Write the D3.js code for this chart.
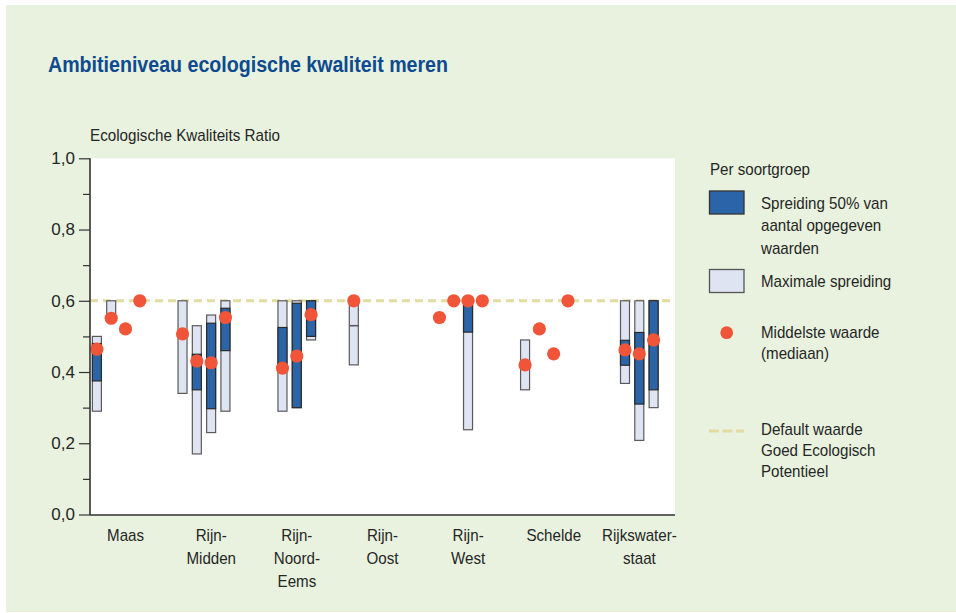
<!DOCTYPE html>
<html><head><meta charset="utf-8">
<script src="https://cdn.jsdelivr.net/npm/d3@7"></script>
<style>
html,body{margin:0;padding:0;background:#fff;}
svg{display:block;font-family:"Liberation Sans",Arial,Helvetica,sans-serif;}
</style>
</head><body>
<svg id="chart" width="956" height="613"></svg>
<script>
// Water managers (regions) along the x axis
const categories = ["Maas","Rijn-Midden","Rijn-Noord-Eems","Rijn-Oost","Rijn-West","Schelde","Rijkswaterstaat"];
const categoryLines = [["Maas"],["Rijn-","Midden"],["Rijn-","Noord-","Eems"],["Rijn-","Oost"],["Rijn-","West"],["Schelde"],["Rijkswater-","staat"]];

// One entry per species group (soortgroep) with a reported value
const groupCategory = ["Maas","Maas","Maas","Maas",
  "Rijn-Midden","Rijn-Midden","Rijn-Midden","Rijn-Midden",
  "Rijn-Noord-Eems","Rijn-Noord-Eems","Rijn-Noord-Eems",
  "Rijn-Oost",
  "Rijn-West","Rijn-West","Rijn-West","Rijn-West",
  "Schelde","Schelde","Schelde","Schelde",
  "Rijkswaterstaat","Rijkswaterstaat","Rijkswaterstaat"];
const groupSlot = [0,1,2,3, 0,1,2,3, 1,2,3, 0, 0,1,2,3, 0,1,2,3, 1,2,3];
const medianValue = [0.464,0.551,0.521,0.60, 0.507,0.431,0.426,0.553, 0.411,0.445,0.561, 0.60, 0.553,0.60,0.60,0.60, 0.42,0.521,0.451,0.60, 0.462,0.451,0.49];
const rangeLow  = [0.29,0.55,null,null, 0.34,0.17,0.23,0.29, 0.29,0.30,0.49, 0.42, null,null,0.238,null, 0.35,null,null,null, 0.368,0.208,0.30];
const rangeHigh = [0.50,0.60,null,null, 0.60,0.53,0.56,0.60, 0.60,0.60,0.60, 0.60, null,null,0.60,null, 0.49,null,null,null, 0.60,0.60,0.60];
const iqrLow  = [0.375,null,null,null, null,0.35,0.297,0.46, 0.41,0.30,0.50, 0.53, null,null,0.512,null, null,null,null,null, 0.419,0.31,0.35];
const iqrHigh = [0.48,null,null,null, null,0.45,0.537,0.579, 0.525,0.593,0.60, 0.53, null,null,0.60,null, null,null,null,null, 0.489,0.511,0.60];

const yTicks = [0,0.2,0.4,0.6,0.8,1.0];
const yMinorTicks = [0.1,0.3,0.5,0.7,0.9];
const referenceLevel = 0.6;

const rows = groupCategory.map((c,i) => ({
  category: c, slot: groupSlot[i], median: medianValue[i],
  lo: rangeLow[i], hi: rangeHigh[i], qlo: iqrLow[i], qhi: iqrHigh[i]
}));

const COLORS = {
  panel: "#e8f2de", plot: "#ffffff", axis: "#333333", text: "#262626",
  title: "#0d4a8f", dark: "#2b65a7", light: "#dfe4f2", dot: "#f0553a", ref: "#e2dca0"
};
const NARROW = 0.89;

const svg = d3.select("#chart");
const plot = {left: 90, right: 675, top: 158.3, bottom: 514.5};

// background panel and plotting area
svg.append("rect").attr("x",6).attr("y",5).attr("width",950).attr("height",607).attr("fill",COLORS.panel);
svg.append("rect").attr("x",plot.left).attr("y",plot.top).attr("width",plot.right-plot.left)
  .attr("height",plot.bottom-plot.top).attr("fill",COLORS.plot);

const x = d3.scalePoint().domain(categories).range([125.6, 639.4]);
const slotX = d3.scaleLinear().domain([0,3]).range([-28.7, 14.2]);
const y = d3.scaleLinear().domain([0,1]).range([plot.bottom, plot.top]);
const barW = 9;
const cx = d => x(d.category) + slotX(d.slot);

// helper for condensed text
function narrowText(sel, tx, ty, str, opts = {}) {
  return sel.append("text")
    .attr("transform", `translate(${tx},${ty}) scale(${opts.sx ?? NARROW},1)`)
    .attr("text-anchor", opts.anchor || "start")
    .attr("font-size", opts.size || 17)
    .attr("fill", opts.fill || COLORS.text)
    .text(str);
}

// title
svg.append("text").attr("x",48).attr("y",72).attr("font-size",22).attr("font-weight","bold")
  .attr("fill",COLORS.title).attr("textLength",400).attr("lengthAdjust","spacingAndGlyphs")
  .text("Ambitieniveau ecologische kwaliteit meren");

// y axis title
svg.append("text").attr("x",90).attr("y",140.5).attr("font-size",17).attr("fill",COLORS.text)
  .attr("textLength",190).attr("lengthAdjust","spacingAndGlyphs")
  .text("Ecologische Kwaliteits Ratio");

// reference level (default value good ecological potential)
svg.append("line").attr("x1",plot.left).attr("x2",plot.right)
  .attr("y1",y(referenceLevel)).attr("y2",y(referenceLevel))
  .attr("stroke",COLORS.ref).attr("stroke-width",3).attr("stroke-dasharray","8,5");

// maximum spread bars
svg.append("g").selectAll("rect").data(rows.filter(d => d.lo != null)).join("rect")
  .attr("x", d => cx(d) - barW/2).attr("width", barW)
  .attr("y", d => y(d.hi)).attr("height", d => y(d.lo) - y(d.hi))
  .attr("fill", COLORS.light).attr("stroke", "#5a5a5a").attr("stroke-width", 1.2);

// 50% spread bars (a collapsed spread is drawn as a single line)
const iqrRows = rows.filter(d => d.qlo != null);
svg.append("g").selectAll("rect").data(iqrRows.filter(d => d.qhi > d.qlo)).join("rect")
  .attr("x", d => cx(d) - barW/2).attr("width", barW)
  .attr("y", d => y(d.qhi)).attr("height", d => y(d.qlo) - y(d.qhi))
  .attr("fill", COLORS.dark).attr("stroke", "#2a2a2a").attr("stroke-width", 1.2);
svg.append("g").selectAll("line").data(iqrRows.filter(d => d.qhi === d.qlo)).join("line")
  .attr("x1", d => cx(d) - barW/2).attr("x2", d => cx(d) + barW/2)
  .attr("y1", d => y(d.qlo)).attr("y2", d => y(d.qlo))
  .attr("stroke", "#5a5a5a").attr("stroke-width", 1.6);

// medians
svg.append("g").selectAll("circle").data(rows).join("circle")
  .attr("cx", cx).attr("cy", d => y(d.median)).attr("r", 6.6).attr("fill", COLORS.dot);

// axes
const yAxis = d3.axisLeft(y).tickValues(yTicks).tickSize(11).tickPadding(4)
  .tickFormat(v => d3.format(".1f")(v).replace(".", ","));
const gy = svg.append("g").attr("transform", `translate(${plot.left},0)`).call(yAxis);
gy.select(".domain").remove();
gy.selectAll(".tick line").attr("stroke", COLORS.axis).attr("stroke-width", 1.2);
gy.selectAll(".tick text").attr("font-size", 17).attr("fill", COLORS.text)
  .attr("font-family", '"Liberation Sans",Arial,sans-serif');

const yMinor = d3.axisLeft(y).tickValues(yMinorTicks).tickSize(7).tickFormat("");
const gm = svg.append("g").attr("transform", `translate(${plot.left},0)`).call(yMinor);
gm.select(".domain").remove();
gm.selectAll(".tick line").attr("stroke", COLORS.axis).attr("stroke-width", 1.2);

svg.append("line").attr("x1",plot.left).attr("x2",plot.left).attr("y1",plot.top).attr("y2",plot.bottom+0.5)
  .attr("stroke",COLORS.axis).attr("stroke-width",1.6);
svg.append("line").attr("x1",plot.left).attr("x2",plot.right).attr("y1",plot.bottom+0.5).attr("y2",plot.bottom+0.5)
  .attr("stroke",COLORS.axis).attr("stroke-width",1.6);

// category labels
const xl = svg.append("g");
categories.forEach((c,i) => {
  categoryLines[i].forEach((line,j) => {
    narrowText(xl, x(c), 541 + j*23, line, {anchor: "middle"});
  });
});

// legend
const lg = svg.append("g");
narrowText(lg, 710, 175, "Per soortgroep");
lg.append("rect").attr("x",709.5).attr("y",191).attr("width",34.5).attr("height",23)
  .attr("fill",COLORS.dark).attr("stroke","#333").attr("stroke-width",1.3);
["Spreiding 50% van","aantal opgegeven","waarden"].forEach((t,j) => narrowText(lg, 761, 208.5 + j*22.5, t));
lg.append("rect").attr("x",709.5).attr("y",269.5).attr("width",34.5).attr("height",23)
  .attr("fill",COLORS.light).attr("stroke","#555").attr("stroke-width",1.3);
narrowText(lg, 761, 286.5, "Maximale spreiding");
lg.append("circle").attr("cx",726.7).attr("cy",332.7).attr("r",6.4).attr("fill",COLORS.dot);
["Middelste waarde","(mediaan)"].forEach((t,j) => narrowText(lg, 761, 337.5 + j*21, t));
lg.append("line").attr("x1",709).attr("x2",744).attr("y1",431).attr("y2",431)
  .attr("stroke",COLORS.ref).attr("stroke-width",3).attr("stroke-dasharray","10,3.5");
["Default waarde","Goed Ecologisch","Potentieel"].forEach((t,j) => narrowText(lg, 761, 435 + j*21, t));
</script>
</body></html>
